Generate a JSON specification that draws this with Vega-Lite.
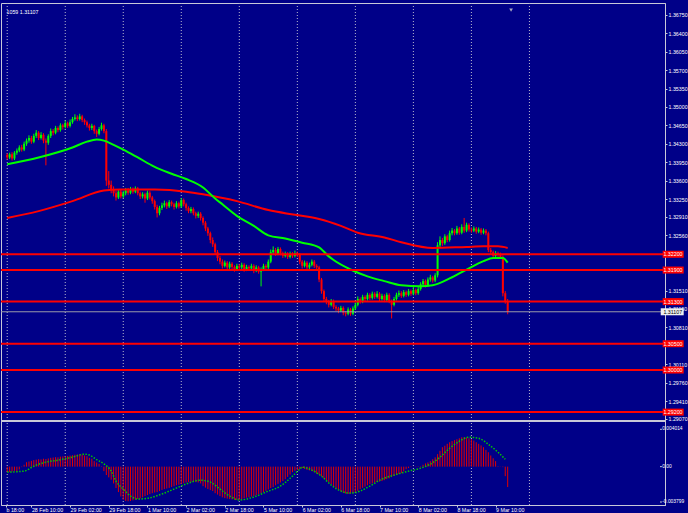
{
"$schema": "https://vega.github.io/schema/vega-lite/v6.json",
"background": "#000088",
"width": 688,
"height": 513,
"autosize": {"type": "fit", "contains": "padding"},
"padding": {"top": 2, "left": 0, "right": 0, "bottom": 0},
"config": {
  "view": {"stroke": "#C8C8D8", "strokeWidth": 1},
  "axis": {"labelFont": "Liberation Sans", "labelColor": "#FFFFFF", "tickColor": "#C8C8D8", "domainColor": "#C8C8D8", "grid": false, "labelFlush": false, "labelOverlap": false},
  "text": {"font": "Liberation Sans"}
},
"datasets": {
"days": [{"i":0},{"i":24},{"i":48},{"i":72},{"i":96},{"i":120},{"i":144},{"i":168},{"i":192},{"i":216}],
"levels": [{"p":1.322},{"p":1.319},{"p":1.313},{"p":1.305},{"p":1.300},{"p":1.292}],
"last": [{"p":1.31107}],
"sep": [{"p":1.2903}],
"one": [{}],
"macdTicks": [{"v":0.004014,"t":"0.004014"},{"v":0,"t":"0.00"},{"v":-0.003799,"t":"-0.003799"}],
"bars": [
{"i":0,"o":1.3409,"h":1.3412,"l":1.3400,"c":1.3404,"m":-0.00059},
{"i":1,"o":1.3404,"h":1.3413,"l":1.3401,"c":1.3410,"m":-0.00057},
{"i":2,"o":1.3410,"h":1.3414,"l":1.3398,"c":1.3402,"m":-0.00052},
{"i":3,"o":1.3402,"h":1.3416,"l":1.3399,"c":1.3413,"m":-0.00045},
{"i":4,"o":1.3413,"h":1.3421,"l":1.3409,"c":1.3417,"m":-0.00048},
{"i":5,"o":1.3417,"h":1.3427,"l":1.3414,"c":1.3423,"m":-0.00030},
{"i":6,"o":1.3423,"h":1.3428,"l":1.3415,"c":1.3419,"m":-0.00005},
{"i":7,"o":1.3419,"h":1.3434,"l":1.3416,"c":1.3430,"m":0.00020},
{"i":8,"o":1.3430,"h":1.3440,"l":1.3426,"c":1.3436,"m":0.00048},
{"i":9,"o":1.3436,"h":1.3446,"l":1.3432,"c":1.3441,"m":0.00055},
{"i":10,"o":1.3441,"h":1.3445,"l":1.3430,"c":1.3434,"m":0.00062},
{"i":11,"o":1.3434,"h":1.3449,"l":1.3431,"c":1.3445,"m":0.00070},
{"i":12,"o":1.3445,"h":1.3456,"l":1.3441,"c":1.3451,"m":0.00075},
{"i":13,"o":1.3451,"h":1.3454,"l":1.3437,"c":1.3441,"m":0.00080},
{"i":14,"o":1.3441,"h":1.3452,"l":1.3438,"c":1.3447,"m":0.00078},
{"i":15,"o":1.3447,"h":1.3450,"l":1.3431,"c":1.3436,"m":0.00085},
{"i":16,"o":1.3436,"h":1.3440,"l":1.3389,"c":1.3432,"m":0.00082},
{"i":17,"o":1.3432,"h":1.3448,"l":1.3428,"c":1.3445,"m":0.00088},
{"i":18,"o":1.3445,"h":1.3459,"l":1.3441,"c":1.3454,"m":0.00095},
{"i":19,"o":1.3454,"h":1.3458,"l":1.3446,"c":1.3451,"m":0.00098},
{"i":20,"o":1.3451,"h":1.3464,"l":1.3448,"c":1.3460,"m":0.00102},
{"i":21,"o":1.3460,"h":1.3463,"l":1.3452,"c":1.3456,"m":0.00100},
{"i":22,"o":1.3456,"h":1.3469,"l":1.3453,"c":1.3465,"m":0.00108},
{"i":23,"o":1.3465,"h":1.3468,"l":1.3457,"c":1.3462,"m":0.00110},
{"i":24,"o":1.3462,"h":1.3474,"l":1.3459,"c":1.3469,"m":0.00112},
{"i":25,"o":1.3469,"h":1.3472,"l":1.3460,"c":1.3464,"m":0.00115},
{"i":26,"o":1.3464,"h":1.3476,"l":1.3461,"c":1.3471,"m":0.00120},
{"i":27,"o":1.3471,"h":1.3481,"l":1.3468,"c":1.3477,"m":0.00123},
{"i":28,"o":1.3477,"h":1.3486,"l":1.3474,"c":1.3480,"m":0.00128},
{"i":29,"o":1.3480,"h":1.3484,"l":1.3473,"c":1.3477,"m":0.00130},
{"i":30,"o":1.3477,"h":1.3487,"l":1.3474,"c":1.3482,"m":0.00134},
{"i":31,"o":1.3482,"h":1.3485,"l":1.3471,"c":1.3475,"m":0.00128},
{"i":32,"o":1.3475,"h":1.3478,"l":1.3466,"c":1.3471,"m":0.00120},
{"i":33,"o":1.3471,"h":1.3474,"l":1.3461,"c":1.3465,"m":0.00112},
{"i":34,"o":1.3465,"h":1.3468,"l":1.3455,"c":1.3460,"m":0.00095},
{"i":35,"o":1.3460,"h":1.3468,"l":1.3456,"c":1.3464,"m":0.00085},
{"i":36,"o":1.3464,"h":1.3466,"l":1.3449,"c":1.3454,"m":0.00059},
{"i":37,"o":1.3454,"h":1.3457,"l":1.3443,"c":1.3449,"m":0.00045},
{"i":38,"o":1.3449,"h":1.3462,"l":1.3446,"c":1.3458,"m":0.00030},
{"i":39,"o":1.3458,"h":1.3470,"l":1.3455,"c":1.3465,"m":0.00005},
{"i":40,"o":1.3465,"h":1.3468,"l":1.3450,"c":1.3454,"m":-0.00048},
{"i":41,"o":1.3454,"h":1.3458,"l":1.3350,"c":1.3360,"m":-0.00090},
{"i":42,"o":1.3360,"h":1.3378,"l":1.3345,"c":1.3352,"m":-0.00115},
{"i":43,"o":1.3352,"h":1.3360,"l":1.3336,"c":1.3343,"m":-0.00140},
{"i":44,"o":1.3343,"h":1.3349,"l":1.3330,"c":1.3336,"m":-0.00180},
{"i":45,"o":1.3336,"h":1.3341,"l":1.3322,"c":1.3328,"m":-0.00230},
{"i":46,"o":1.3328,"h":1.3343,"l":1.3325,"c":1.3339,"m":-0.00273},
{"i":47,"o":1.3339,"h":1.3344,"l":1.3326,"c":1.3330,"m":-0.00320},
{"i":48,"o":1.3330,"h":1.3340,"l":1.3327,"c":1.3336,"m":-0.00355},
{"i":49,"o":1.3336,"h":1.3346,"l":1.3332,"c":1.3341,"m":-0.00369},
{"i":50,"o":1.3341,"h":1.3346,"l":1.3333,"c":1.3337,"m":-0.00372},
{"i":51,"o":1.3337,"h":1.3348,"l":1.3334,"c":1.3343,"m":-0.00369},
{"i":52,"o":1.3343,"h":1.3347,"l":1.3335,"c":1.3339,"m":-0.00362},
{"i":53,"o":1.3339,"h":1.3349,"l":1.3336,"c":1.3345,"m":-0.00355},
{"i":54,"o":1.3345,"h":1.3348,"l":1.3332,"c":1.3336,"m":-0.00348},
{"i":55,"o":1.3336,"h":1.3339,"l":1.3325,"c":1.3330,"m":-0.00340},
{"i":56,"o":1.3330,"h":1.3338,"l":1.3326,"c":1.3334,"m":-0.00330},
{"i":57,"o":1.3334,"h":1.3337,"l":1.3318,"c":1.3326,"m":-0.00316},
{"i":58,"o":1.3326,"h":1.3341,"l":1.3323,"c":1.3337,"m":-0.00305},
{"i":59,"o":1.3337,"h":1.3340,"l":1.3324,"c":1.3328,"m":-0.00295},
{"i":60,"o":1.3328,"h":1.3331,"l":1.3316,"c":1.3321,"m":-0.00285},
{"i":61,"o":1.3321,"h":1.3324,"l":1.3305,"c":1.3310,"m":-0.00278},
{"i":62,"o":1.3310,"h":1.3314,"l":1.3290,"c":1.3298,"m":-0.00273},
{"i":63,"o":1.3298,"h":1.3312,"l":1.3294,"c":1.3308,"m":-0.00262},
{"i":64,"o":1.3308,"h":1.3318,"l":1.3304,"c":1.3313,"m":-0.00250},
{"i":65,"o":1.3313,"h":1.3322,"l":1.3309,"c":1.3317,"m":-0.00241},
{"i":66,"o":1.3317,"h":1.3320,"l":1.3306,"c":1.3311,"m":-0.00235},
{"i":67,"o":1.3311,"h":1.3323,"l":1.3308,"c":1.3319,"m":-0.00228},
{"i":68,"o":1.3319,"h":1.3322,"l":1.3311,"c":1.3315,"m":-0.00219},
{"i":69,"o":1.3315,"h":1.3318,"l":1.3305,"c":1.3310,"m":-0.00210},
{"i":70,"o":1.3310,"h":1.3321,"l":1.3307,"c":1.3317,"m":-0.00200},
{"i":71,"o":1.3317,"h":1.3320,"l":1.3307,"c":1.3311,"m":-0.00195},
{"i":72,"o":1.3311,"h":1.3327,"l":1.3308,"c":1.3323,"m":-0.00187},
{"i":73,"o":1.3323,"h":1.3326,"l":1.3311,"c":1.3315,"m":-0.00178},
{"i":74,"o":1.3315,"h":1.3318,"l":1.3303,"c":1.3308,"m":-0.00170},
{"i":75,"o":1.3308,"h":1.3311,"l":1.3298,"c":1.3302,"m":-0.00166},
{"i":76,"o":1.3302,"h":1.3310,"l":1.3298,"c":1.3306,"m":-0.00163},
{"i":77,"o":1.3306,"h":1.3309,"l":1.3294,"c":1.3298,"m":-0.00162},
{"i":78,"o":1.3298,"h":1.3301,"l":1.3288,"c":1.3293,"m":-0.00166},
{"i":79,"o":1.3293,"h":1.3301,"l":1.3289,"c":1.3297,"m":-0.00170},
{"i":80,"o":1.3297,"h":1.3300,"l":1.3284,"c":1.3289,"m":-0.00180},
{"i":81,"o":1.3289,"h":1.3292,"l":1.3275,"c":1.3280,"m":-0.00209},
{"i":82,"o":1.3280,"h":1.3283,"l":1.3264,"c":1.3269,"m":-0.00225},
{"i":83,"o":1.3269,"h":1.3272,"l":1.3255,"c":1.3260,"m":-0.00240},
{"i":84,"o":1.3260,"h":1.3263,"l":1.3241,"c":1.3247,"m":-0.00252},
{"i":85,"o":1.3247,"h":1.3252,"l":1.3234,"c":1.3239,"m":-0.00262},
{"i":86,"o":1.3239,"h":1.3242,"l":1.3219,"c":1.3224,"m":-0.00285},
{"i":87,"o":1.3224,"h":1.3228,"l":1.3207,"c":1.3213,"m":-0.00300},
{"i":88,"o":1.3213,"h":1.3217,"l":1.3201,"c":1.3206,"m":-0.00316},
{"i":89,"o":1.3206,"h":1.3210,"l":1.3193,"c":1.3198,"m":-0.00330},
{"i":90,"o":1.3198,"h":1.3208,"l":1.3195,"c":1.3204,"m":-0.00338},
{"i":91,"o":1.3204,"h":1.3207,"l":1.3191,"c":1.3195,"m":-0.00343},
{"i":92,"o":1.3195,"h":1.3206,"l":1.3192,"c":1.3202,"m":-0.00348},
{"i":93,"o":1.3202,"h":1.3205,"l":1.3192,"c":1.3196,"m":-0.00352},
{"i":94,"o":1.3196,"h":1.3199,"l":1.3187,"c":1.3191,"m":-0.00356},
{"i":95,"o":1.3191,"h":1.3202,"l":1.3188,"c":1.3198,"m":-0.00358},
{"i":96,"o":1.3198,"h":1.3201,"l":1.3190,"c":1.3195,"m":-0.00355},
{"i":97,"o":1.3195,"h":1.3204,"l":1.3191,"c":1.3200,"m":-0.00348},
{"i":98,"o":1.3200,"h":1.3203,"l":1.3187,"c":1.3191,"m":-0.00340},
{"i":99,"o":1.3191,"h":1.3200,"l":1.3188,"c":1.3196,"m":-0.00333},
{"i":100,"o":1.3196,"h":1.3199,"l":1.3189,"c":1.3193,"m":-0.00328},
{"i":101,"o":1.3193,"h":1.3202,"l":1.3190,"c":1.3198,"m":-0.00322},
{"i":102,"o":1.3198,"h":1.3201,"l":1.3184,"c":1.3189,"m":-0.00316},
{"i":103,"o":1.3189,"h":1.3199,"l":1.3186,"c":1.3195,"m":-0.00305},
{"i":104,"o":1.3195,"h":1.3198,"l":1.3183,"c":1.3187,"m":-0.00295},
{"i":105,"o":1.3187,"h":1.3195,"l":1.3159,"c":1.3191,"m":-0.00285},
{"i":106,"o":1.3191,"h":1.3202,"l":1.3188,"c":1.3198,"m":-0.00273},
{"i":107,"o":1.3198,"h":1.3201,"l":1.3191,"c":1.3195,"m":-0.00260},
{"i":108,"o":1.3195,"h":1.3210,"l":1.3192,"c":1.3206,"m":-0.00245},
{"i":109,"o":1.3206,"h":1.3229,"l":1.3203,"c":1.3224,"m":-0.00230},
{"i":110,"o":1.3224,"h":1.3235,"l":1.3220,"c":1.3228,"m":-0.00219},
{"i":111,"o":1.3228,"h":1.3232,"l":1.3217,"c":1.3221,"m":-0.00200},
{"i":112,"o":1.3221,"h":1.3234,"l":1.3218,"c":1.3230,"m":-0.00185},
{"i":113,"o":1.3230,"h":1.3233,"l":1.3218,"c":1.3222,"m":-0.00170},
{"i":114,"o":1.3222,"h":1.3225,"l":1.3213,"c":1.3217,"m":-0.00155},
{"i":115,"o":1.3217,"h":1.3225,"l":1.3214,"c":1.3221,"m":-0.00135},
{"i":116,"o":1.3221,"h":1.3224,"l":1.3211,"c":1.3215,"m":-0.00110},
{"i":117,"o":1.3215,"h":1.3225,"l":1.3212,"c":1.3221,"m":-0.00085},
{"i":118,"o":1.3221,"h":1.3224,"l":1.3213,"c":1.3217,"m":-0.00059},
{"i":119,"o":1.3217,"h":1.3227,"l":1.3214,"c":1.3222,"m":-0.00045},
{"i":120,"o":1.3222,"h":1.3225,"l":1.3215,"c":1.3219,"m":-0.00035},
{"i":121,"o":1.3219,"h":1.3222,"l":1.3201,"c":1.3206,"m":-0.00027},
{"i":122,"o":1.3206,"h":1.3209,"l":1.3193,"c":1.3198,"m":-0.00016},
{"i":123,"o":1.3198,"h":1.3208,"l":1.3195,"c":1.3204,"m":-0.00025},
{"i":124,"o":1.3204,"h":1.3207,"l":1.3191,"c":1.3195,"m":-0.00035},
{"i":125,"o":1.3195,"h":1.3204,"l":1.3192,"c":1.3200,"m":-0.00040},
{"i":126,"o":1.3200,"h":1.3210,"l":1.3197,"c":1.3206,"m":-0.00048},
{"i":127,"o":1.3206,"h":1.3209,"l":1.3194,"c":1.3198,"m":-0.00060},
{"i":128,"o":1.3198,"h":1.3201,"l":1.3191,"c":1.3195,"m":-0.00075},
{"i":129,"o":1.3195,"h":1.3198,"l":1.3167,"c":1.3172,"m":-0.00085},
{"i":130,"o":1.3172,"h":1.3175,"l":1.3145,"c":1.3150,"m":-0.00102},
{"i":131,"o":1.3150,"h":1.3153,"l":1.3130,"c":1.3135,"m":-0.00125},
{"i":132,"o":1.3135,"h":1.3139,"l":1.3125,"c":1.3130,"m":-0.00145},
{"i":133,"o":1.3130,"h":1.3133,"l":1.3119,"c":1.3124,"m":-0.00165},
{"i":134,"o":1.3124,"h":1.3135,"l":1.3121,"c":1.3131,"m":-0.00187},
{"i":135,"o":1.3131,"h":1.3134,"l":1.3116,"c":1.3120,"m":-0.00210},
{"i":136,"o":1.3120,"h":1.3123,"l":1.3112,"c":1.3117,"m":-0.00230},
{"i":137,"o":1.3117,"h":1.3120,"l":1.3108,"c":1.3113,"m":-0.00248},
{"i":138,"o":1.3113,"h":1.3122,"l":1.3110,"c":1.3118,"m":-0.00262},
{"i":139,"o":1.3118,"h":1.3121,"l":1.3104,"c":1.3109,"m":-0.00280},
{"i":140,"o":1.3109,"h":1.3112,"l":1.3102,"c":1.3107,"m":-0.00290},
{"i":141,"o":1.3107,"h":1.3119,"l":1.3104,"c":1.3115,"m":-0.00294},
{"i":142,"o":1.3115,"h":1.3118,"l":1.3103,"c":1.3107,"m":-0.00290},
{"i":143,"o":1.3107,"h":1.3121,"l":1.3104,"c":1.3117,"m":-0.00282},
{"i":144,"o":1.3117,"h":1.3128,"l":1.3114,"c":1.3124,"m":-0.00273},
{"i":145,"o":1.3124,"h":1.3140,"l":1.3121,"c":1.3135,"m":-0.00260},
{"i":146,"o":1.3135,"h":1.3138,"l":1.3126,"c":1.3130,"m":-0.00241},
{"i":147,"o":1.3130,"h":1.3143,"l":1.3127,"c":1.3139,"m":-0.00228},
{"i":148,"o":1.3139,"h":1.3142,"l":1.3131,"c":1.3135,"m":-0.00215},
{"i":149,"o":1.3135,"h":1.3147,"l":1.3132,"c":1.3143,"m":-0.00200},
{"i":150,"o":1.3143,"h":1.3146,"l":1.3133,"c":1.3137,"m":-0.00187},
{"i":151,"o":1.3137,"h":1.3149,"l":1.3134,"c":1.3145,"m":-0.00180},
{"i":152,"o":1.3145,"h":1.3148,"l":1.3135,"c":1.3139,"m":-0.00172},
{"i":153,"o":1.3139,"h":1.3150,"l":1.3136,"c":1.3145,"m":-0.00165},
{"i":154,"o":1.3145,"h":1.3148,"l":1.3131,"c":1.3135,"m":-0.00160},
{"i":155,"o":1.3135,"h":1.3145,"l":1.3132,"c":1.3141,"m":-0.00155},
{"i":156,"o":1.3141,"h":1.3144,"l":1.3129,"c":1.3133,"m":-0.00145},
{"i":157,"o":1.3133,"h":1.3147,"l":1.3130,"c":1.3143,"m":-0.00135},
{"i":158,"o":1.3143,"h":1.3146,"l":1.3127,"c":1.3131,"m":-0.00125},
{"i":159,"o":1.3131,"h":1.3134,"l":1.3098,"c":1.3124,"m":-0.00112},
{"i":160,"o":1.3124,"h":1.3139,"l":1.3121,"c":1.3135,"m":-0.00100},
{"i":161,"o":1.3135,"h":1.3147,"l":1.3132,"c":1.3143,"m":-0.00090},
{"i":162,"o":1.3143,"h":1.3151,"l":1.3139,"c":1.3146,"m":-0.00080},
{"i":163,"o":1.3146,"h":1.3150,"l":1.3137,"c":1.3141,"m":-0.00070},
{"i":164,"o":1.3141,"h":1.3152,"l":1.3138,"c":1.3148,"m":-0.00050},
{"i":165,"o":1.3148,"h":1.3151,"l":1.3139,"c":1.3143,"m":-0.00027},
{"i":166,"o":1.3143,"h":1.3154,"l":1.3140,"c":1.3150,"m":-0.00015},
{"i":167,"o":1.3150,"h":1.3153,"l":1.3141,"c":1.3145,"m":-0.00005},
{"i":168,"o":1.3145,"h":1.3158,"l":1.3142,"c":1.3152,"m":0.00001},
{"i":169,"o":1.3152,"h":1.3155,"l":1.3142,"c":1.3146,"m":0.00003},
{"i":170,"o":1.3146,"h":1.3158,"l":1.3143,"c":1.3154,"m":0.00004},
{"i":171,"o":1.3154,"h":1.3167,"l":1.3151,"c":1.3163,"m":0.00005},
{"i":172,"o":1.3163,"h":1.3173,"l":1.3159,"c":1.3169,"m":0.00020},
{"i":173,"o":1.3169,"h":1.3172,"l":1.3157,"c":1.3161,"m":0.00035},
{"i":174,"o":1.3161,"h":1.3176,"l":1.3158,"c":1.3172,"m":0.00045},
{"i":175,"o":1.3172,"h":1.3181,"l":1.3168,"c":1.3176,"m":0.00059},
{"i":176,"o":1.3176,"h":1.3179,"l":1.3166,"c":1.3170,"m":0.00080},
{"i":177,"o":1.3170,"h":1.3184,"l":1.3167,"c":1.3180,"m":0.00100},
{"i":178,"o":1.3180,"h":1.3243,"l":1.3176,"c":1.3237,"m":0.00134},
{"i":179,"o":1.3237,"h":1.3254,"l":1.3232,"c":1.3247,"m":0.00170},
{"i":180,"o":1.3247,"h":1.3251,"l":1.3236,"c":1.3241,"m":0.00209},
{"i":181,"o":1.3241,"h":1.3258,"l":1.3238,"c":1.3254,"m":0.00225},
{"i":182,"o":1.3254,"h":1.3257,"l":1.3243,"c":1.3247,"m":0.00245},
{"i":183,"o":1.3247,"h":1.3265,"l":1.3244,"c":1.3260,"m":0.00262},
{"i":184,"o":1.3260,"h":1.3270,"l":1.3256,"c":1.3265,"m":0.00275},
{"i":185,"o":1.3265,"h":1.3268,"l":1.3256,"c":1.3260,"m":0.00285},
{"i":186,"o":1.3260,"h":1.3274,"l":1.3257,"c":1.3269,"m":0.00294},
{"i":187,"o":1.3269,"h":1.3272,"l":1.3257,"c":1.3261,"m":0.00305},
{"i":188,"o":1.3261,"h":1.3277,"l":1.3258,"c":1.3272,"m":0.00316},
{"i":189,"o":1.3272,"h":1.3289,"l":1.3261,"c":1.3265,"m":0.00318},
{"i":190,"o":1.3265,"h":1.3280,"l":1.3262,"c":1.3276,"m":0.00312},
{"i":191,"o":1.3276,"h":1.3279,"l":1.3263,"c":1.3267,"m":0.00305},
{"i":192,"o":1.3267,"h":1.3271,"l":1.3261,"c":1.3265,"m":0.00295},
{"i":193,"o":1.3265,"h":1.3273,"l":1.3262,"c":1.3269,"m":0.00280},
{"i":194,"o":1.3269,"h":1.3272,"l":1.3259,"c":1.3263,"m":0.00262},
{"i":195,"o":1.3263,"h":1.3271,"l":1.3260,"c":1.3267,"m":0.00245},
{"i":196,"o":1.3267,"h":1.3270,"l":1.3257,"c":1.3261,"m":0.00228},
{"i":197,"o":1.3261,"h":1.3269,"l":1.3258,"c":1.3265,"m":0.00209},
{"i":198,"o":1.3265,"h":1.3268,"l":1.3256,"c":1.3260,"m":0.00180},
{"i":199,"o":1.3260,"h":1.3263,"l":1.3224,"c":1.3228,"m":0.00155},
{"i":200,"o":1.3228,"h":1.3232,"l":1.3219,"c":1.3224,"m":0.00120},
{"i":201,"o":1.3224,"h":1.3227,"l":1.3213,"c":1.3217,"m":0.00090},
{"i":202,"o":1.3217,"h":1.3226,"l":1.3214,"c":1.3222,"m":0.00059},
{"i":203,"o":1.3222,"h":1.3225,"l":1.3215,"c":1.3219,"m":0.00005},
{"i":204,"o":1.3219,"h":1.3223,"l":1.3211,"c":1.3215,"m":0.00002},
{"i":205,"o":1.3215,"h":1.3218,"l":1.3140,"c":1.3146,"m":-0.00005},
{"i":206,"o":1.3146,"h":1.3150,"l":1.3126,"c":1.3131,"m":-0.00102},
{"i":207,"o":1.3131,"h":1.3135,"l":1.3106,"c":1.31107,"m":-0.00219}
],
"maGreen": [
{"i":0,"p":1.3391},{"i":13,"p":1.3404},{"i":27,"p":1.3423},{"i":33,"p":1.3434},{"i":37,"p":1.3438},{"i":40,"p":1.3436},{"i":44,"p":1.3428},{"i":48,"p":1.3419},{"i":54,"p":1.3404},{"i":61,"p":1.3386},{"i":68,"p":1.3373},{"i":74,"p":1.3363},{"i":81,"p":1.3347},{"i":86,"p":1.3326},{"i":89,"p":1.3315},{"i":95,"p":1.3293},{"i":102,"p":1.3274},{"i":108,"p":1.3256},{"i":115,"p":1.3250},{"i":122,"p":1.3242},{"i":129,"p":1.3233},{"i":133,"p":1.3216},{"i":135,"p":1.3209},{"i":142,"p":1.3191},{"i":149,"p":1.3178},{"i":156,"p":1.3169},{"i":163,"p":1.3161},{"i":171,"p":1.3159},{"i":176,"p":1.3161},{"i":183,"p":1.3174},{"i":190,"p":1.3191},{"i":197,"p":1.3207},{"i":201,"p":1.3213},{"i":205,"p":1.3213},{"i":207,"p":1.3204}
],
"maRed": [
{"i":0,"p":1.3289},{"i":13,"p":1.3302},{"i":27,"p":1.3321},{"i":40,"p":1.3341},{"i":47,"p":1.3343},{"i":54,"p":1.3343},{"i":61,"p":1.3343},{"i":74,"p":1.3339},{"i":81,"p":1.3334},{"i":95,"p":1.3321},{"i":108,"p":1.3304},{"i":119,"p":1.3295},{"i":129,"p":1.3287},{"i":138,"p":1.3274},{"i":145,"p":1.3261},{"i":156,"p":1.3252},{"i":163,"p":1.3243},{"i":176,"p":1.3232},{"i":190,"p":1.3234},{"i":197,"p":1.3235},{"i":203,"p":1.3235},{"i":207,"p":1.3232}
],
"signal": [
{"i":0,"s":-0.00059},{"i":7,"s":-0.00048},{"i":11,"s":0.00005},{"i":16,"s":0.00048},{"i":21,"s":0.00070},{"i":27,"s":0.00102},{"i":32,"s":0.00134},{"i":34,"s":0.00125},{"i":37,"s":0.00075},{"i":40,"s":0.00030},{"i":43,"s":-0.00048},{"i":45,"s":-0.00155},{"i":48,"s":-0.00241},{"i":51,"s":-0.00316},{"i":54,"s":-0.00348},{"i":58,"s":-0.00340},{"i":64,"s":-0.00294},{"i":69,"s":-0.00241},{"i":74,"s":-0.00187},{"i":80,"s":-0.00145},{"i":84,"s":-0.00166},{"i":88,"s":-0.00241},{"i":92,"s":-0.00316},{"i":96,"s":-0.00358},{"i":102,"s":-0.00326},{"i":107,"s":-0.00273},{"i":113,"s":-0.00209},{"i":118,"s":-0.00102},{"i":121,"s":-0.00027},{"i":122,"s":-0.00005},{"i":126,"s":-0.00037},{"i":130,"s":-0.00102},{"i":134,"s":-0.00198},{"i":138,"s":-0.00262},{"i":142,"s":-0.00284},{"i":146,"s":-0.00262},{"i":150,"s":-0.00209},{"i":155,"s":-0.00134},{"i":160,"s":-0.00091},{"i":166,"s":-0.00048},{"i":171,"s":-0.00016},{"i":175,"s":0.00027},{"i":179,"s":0.00102},{"i":183,"s":0.00198},{"i":187,"s":0.00273},{"i":191,"s":0.00316},{"i":195,"s":0.00305},{"i":199,"s":0.00241},{"i":203,"s":0.00155},{"i":206,"s":0.00080}
]
},
"resolve": {"scale": {"y": "independent"}},
"layer": [
 {
  "layer": [
   {"data": {"name": "days"}, "mark": {"type": "rule", "strokeDash": [1, 2], "color": "#B8B8CC", "strokeWidth": 1},
    "encoding": {"x": {"field": "i", "type": "quantitative", "scale": {"domain": [-0.5, 270], "nice": false, "zero": false}}}},
   {"data": {"name": "bars"}, "mark": {"type": "rule", "strokeWidth": 1},
    "encoding": {
      "x": {"field": "i", "type": "quantitative", "scale": {"domain": [-0.5, 270], "nice": false, "zero": false}},
      "y": {"field": "l", "type": "quantitative", "scale": {"domain": [1.2753, 1.3688], "nice": false, "zero": false},
        "axis": {"orient": "right", "title": null, "tickCount": 100, "labelOverlap": false, "values": [1.3675,1.364,1.3605,1.357,1.3535,1.35,1.3465,1.343,1.3395,1.336,1.3325,1.3291,1.3256,1.3151,1.3116,1.3081,1.3011,1.2976,1.2941,1.2907], "format": ".5f", "labelFontSize": 5.3, "tickSize": 2, "labelPadding": 1, "labelBaseline": "middle"}},
      "y2": {"field": "h"},
      "color": {"condition": {"test": "datum.c >= datum.o", "value": "#00FF00"}, "value": "#FF0000"}}},
   {"data": {"name": "bars"}, "mark": {"type": "bar", "size": 2},
    "encoding": {
      "x": {"field": "i", "type": "quantitative", "scale": {"domain": [-0.5, 270], "nice": false, "zero": false}},
      "y": {"field": "o", "type": "quantitative", "scale": {"domain": [1.2753, 1.3688], "nice": false, "zero": false}},
      "y2": {"field": "c"},
      "color": {"condition": {"test": "datum.c >= datum.o", "value": "#00FF00"}, "value": "#FF0000"}}},
   {"data": {"name": "maRed"}, "mark": {"type": "line", "color": "#FF0000", "strokeWidth": 2, "interpolate": "monotone"},
    "encoding": {
      "x": {"field": "i", "type": "quantitative", "scale": {"domain": [-0.5, 270], "nice": false, "zero": false}},
      "y": {"field": "p", "type": "quantitative", "scale": {"domain": [1.2753, 1.3688], "nice": false, "zero": false}}}},
   {"data": {"name": "maGreen"}, "mark": {"type": "line", "color": "#00FF00", "strokeWidth": 2, "interpolate": "monotone"},
    "encoding": {
      "x": {"field": "i", "type": "quantitative", "scale": {"domain": [-0.5, 270], "nice": false, "zero": false}},
      "y": {"field": "p", "type": "quantitative", "scale": {"domain": [1.2753, 1.3688], "nice": false, "zero": false}}}},
   {"data": {"name": "last"}, "mark": {"type": "rule", "color": "#9A9AAA", "strokeWidth": 1},
    "encoding": {"y": {"field": "p", "type": "quantitative", "scale": {"domain": [1.2753, 1.3688], "nice": false, "zero": false}}}},
   {"data": {"name": "sep"}, "mark": {"type": "rule", "color": "#C8C8D8", "strokeWidth": 2},
    "encoding": {"y": {"field": "p", "type": "quantitative", "scale": {"domain": [1.2753, 1.3688], "nice": false, "zero": false}}}},
   {"data": {"name": "levels"}, "mark": {"type": "rule", "color": "#FF0000", "strokeWidth": 2},
    "encoding": {"y": {"field": "p", "type": "quantitative", "scale": {"domain": [1.2753, 1.3688], "nice": false, "zero": false}}}},
   {"data": {"name": "levels"}, "mark": {"type": "bar", "size": 7, "color": "#FF0000"},
    "encoding": {
      "x": {"datum": 271.1, "type": "quantitative", "scale": {"domain": [-0.5, 270], "nice": false, "zero": false}},
      "x2": {"datum": 279.8},
      "y": {"field": "p", "type": "quantitative", "scale": {"domain": [1.2753, 1.3688], "nice": false, "zero": false}}}},
   {"data": {"name": "levels"}, "mark": {"type": "text", "align": "left", "baseline": "middle", "fontSize": 5.3, "color": "#FFFFFF"},
    "encoding": {
      "x": {"datum": 271.4, "type": "quantitative", "scale": {"domain": [-0.5, 270], "nice": false, "zero": false}},
      "y": {"field": "p", "type": "quantitative", "scale": {"domain": [1.2753, 1.3688], "nice": false, "zero": false}},
      "text": {"field": "p", "type": "quantitative", "format": ".5f"}}},
   {"data": {"name": "last"}, "mark": {"type": "bar", "size": 7, "color": "#F0F0F0"},
    "encoding": {
      "x": {"datum": 270.3, "type": "quantitative", "scale": {"domain": [-0.5, 270], "nice": false, "zero": false}},
      "x2": {"datum": 279.8},
      "y": {"field": "p", "type": "quantitative", "scale": {"domain": [1.2753, 1.3688], "nice": false, "zero": false}}}},
   {"data": {"name": "last"}, "mark": {"type": "text", "align": "left", "baseline": "middle", "fontSize": 5.3, "color": "#000000"},
    "encoding": {
      "x": {"datum": 271.4, "type": "quantitative", "scale": {"domain": [-0.5, 270], "nice": false, "zero": false}},
      "y": {"field": "p", "type": "quantitative", "scale": {"domain": [1.2753, 1.3688], "nice": false, "zero": false}},
      "text": {"field": "p", "type": "quantitative", "format": ".5f"}}},
   {"data": {"name": "one"}, "mark": {"type": "text", "align": "left", "baseline": "middle", "fontSize": 5.3, "color": "#FFFFFF", "text": "1059 1.31107"},
    "encoding": {
      "x": {"datum": -0.3, "type": "quantitative", "scale": {"domain": [-0.5, 270], "nice": false, "zero": false}},
      "y": {"datum": 1.368, "type": "quantitative", "scale": {"domain": [1.2753, 1.3688], "nice": false, "zero": false}}}},
   {"data": {"name": "one"}, "mark": {"type": "point", "shape": "triangle-down", "size": 14, "filled": true, "color": "#A8A8C0", "opacity": 1},
    "encoding": {
      "x": {"datum": 208.4, "type": "quantitative", "scale": {"domain": [-0.5, 270], "nice": false, "zero": false}},
      "y": {"datum": 1.3684, "type": "quantitative", "scale": {"domain": [1.2753, 1.3688], "nice": false, "zero": false}}}}
  ]
 },
 {
  "layer": [
   {"data": {"name": "bars"}, "mark": {"type": "rule", "strokeWidth": 1, "color": "#E00000"},
    "encoding": {
      "x": {"field": "i", "type": "quantitative", "scale": {"domain": [-0.5, 270], "nice": false, "zero": false},
        "axis": {"orient": "bottom", "title": null, "tickCount": 100, "labelOverlap": false, "values": [-0.5,10,26,42,58,74,90,106,122,138,154,170,186,202], "labelExpr": "datum.value < 0 ? 'b 18:00' : ['28 Feb 10:00','29 Feb 02:00','29 Feb 18:00','1 Mar 10:00','2 Mar 02:00','2 Mar 18:00','5 Mar 10:00','6 Mar 02:00','6 Mar 18:00','7 Mar 10:00','8 Mar 02:00','8 Mar 18:00','9 Mar 10:00'][(datum.value-10)/16]", "labelAlign": "left", "labelBaseline": "top", "labelPadding": 0, "tickSize": 2, "labelFontSize": 5.3}},
      "y": {"field": "m", "type": "quantitative", "scale": {"domain": [-0.00412, 0.049818], "nice": false, "zero": false}, "axis": null},
      "y2": {"datum": 0}}},
   {"data": {"name": "signal"}, "mark": {"type": "line", "color": "#00C800", "strokeWidth": 1.5, "strokeDash": [1.5, 1.5], "interpolate": "monotone"},
    "encoding": {
      "x": {"field": "i", "type": "quantitative", "scale": {"domain": [-0.5, 270], "nice": false, "zero": false}},
      "y": {"field": "s", "type": "quantitative", "scale": {"domain": [-0.00412, 0.049818], "nice": false, "zero": false}, "axis": null}}},
   {"data": {"name": "macdTicks"}, "mark": {"type": "rule", "color": "#C8C8D8", "strokeWidth": 1},
    "encoding": {
      "x": {"datum": 270, "type": "quantitative", "scale": {"domain": [-0.5, 270], "nice": false, "zero": false}},
      "x2": {"datum": 270.8},
      "y": {"field": "v", "type": "quantitative", "scale": {"domain": [-0.00412, 0.049818], "nice": false, "zero": false}, "axis": null}}},
   {"data": {"name": "macdTicks"}, "mark": {"type": "text", "align": "left", "baseline": "middle", "fontSize": 4.9, "color": "#FFFFFF", "limit": 22.5, "ellipsis": " "},
    "encoding": {
      "x": {"datum": 270.9, "type": "quantitative", "scale": {"domain": [-0.5, 270], "nice": false, "zero": false}},
      "y": {"field": "v", "type": "quantitative", "scale": {"domain": [-0.00412, 0.049818], "nice": false, "zero": false}, "axis": null},
      "text": {"field": "t"}}}
  ]
 }
]
}
